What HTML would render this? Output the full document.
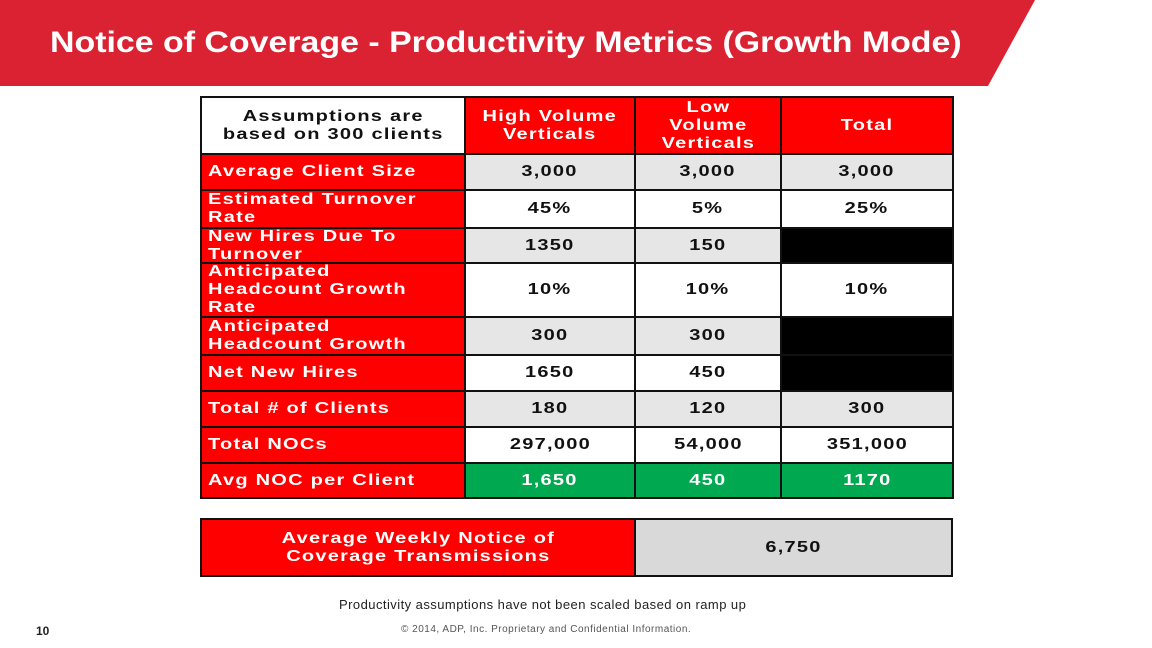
<!DOCTYPE html>
<html><head><meta charset="utf-8"><style>
body{margin:0;width:1152px;height:648px;background:#fff;position:relative;overflow:hidden;font-family:"Liberation Sans",Arial,sans-serif}
.c{position:absolute;box-sizing:border-box;border:2px solid #111;display:flex;align-items:center;justify-content:center;text-align:center;font-weight:bold;font-size:16px;letter-spacing:1px;line-height:18px;white-space:nowrap}
.c span{display:inline-block;transform:scaleX(1.25);transform-origin:center}
.l{justify-content:flex-start;text-align:left;padding-left:6px;color:#fff;background:#f00}
.l span{transform-origin:left center}
.t{position:absolute;white-space:nowrap}
</style></head><body>
<svg style="position:absolute;left:0;top:0" width="1152" height="90"><polygon points="0,0 1035,0 988,86 0,86" fill="#db2232"/></svg>
<div class="t" style="left:50px;top:26px;color:#fff;font-size:30px;font-weight:bold;transform:scaleX(1.13);transform-origin:left top">Notice of Coverage - Productivity Metrics (Growth Mode)</div>
<div id="tbl"></div>
<div class="c" style="left:200px;top:518px;width:436px;height:59px;background:#f00;color:#fff"><span>Average Weekly Notice of<br>Coverage Transmissions</span></div>
<div class="c" style="left:634px;top:518px;width:319px;height:59px;background:#d9d9d9;color:#111"><span>6,750</span></div>
<div class="t" style="left:339px;top:597px;font-size:13px;letter-spacing:0.45px;color:#222">Productivity assumptions have not been scaled based on ramp up</div>
<div class="t" style="left:36px;top:624px;font-size:12px;font-weight:bold;color:#222">10</div>
<div class="t" style="left:401px;top:624px;font-size:10px;letter-spacing:0.5px;color:#555">© 2014, ADP, Inc. Proprietary and Confidential Information.</div>
<script>
const xs=[200,464,634,780,952];
const ys=[96,153,189,227,262,316,354,390,426,462,497];
const labels=["Assumptions are<br>based on 300 clients","Average Client Size","Estimated Turnover<br>Rate","New Hires Due To<br>Turnover","Anticipated<br>Headcount Growth<br>Rate","Anticipated<br>Headcount Growth","Net New Hires","Total # of Clients","Total NOCs","Avg NOC per Client"];
const high=["High Volume<br>Verticals","3,000","45%","1350","10%","300","1650","180","297,000","1,650"];
const low=["Low<br>Volume<br>Verticals","3,000","5%","150","10%","300","450","120","54,000","450"];
const total=["Total","3,000","25%","","10%","","","300","351,000","1170"];
const tbl=document.getElementById('tbl');
for(let r=0;r<labels.length;r++){
  const cols=[labels[r],high[r],low[r],total[r]];
  for(let c=0;c<4;c++){
    const d=document.createElement('div');
    
    
    d.className='c'+(c===0&&r>0?' l':'');
    d.style.left=xs[c]+'px';d.style.top=ys[r]+'px';
    d.style.width=(xs[c+1]-xs[c]+2)+'px';d.style.height=(ys[r+1]-ys[r]+2)+'px';
    const s=document.createElement('span');
    s.innerHTML=cols[c];
    d.appendChild(s);
    if(r===0){d.style.background=c===0?'#fff':'#f00';d.style.color=c===0?'#111':'#fff';}
    else if(c>0){
      if(r===9){d.style.background='#00a84f';d.style.color='#fff';}
      else{d.style.background=(r%2===1)?'#e6e6e6':'#fff';d.style.color='#111';}
      if(c===3&&cols[c]===''){d.style.background='#000';}
    }
    tbl.appendChild(d);
  }
}
</script>
</body></html>
